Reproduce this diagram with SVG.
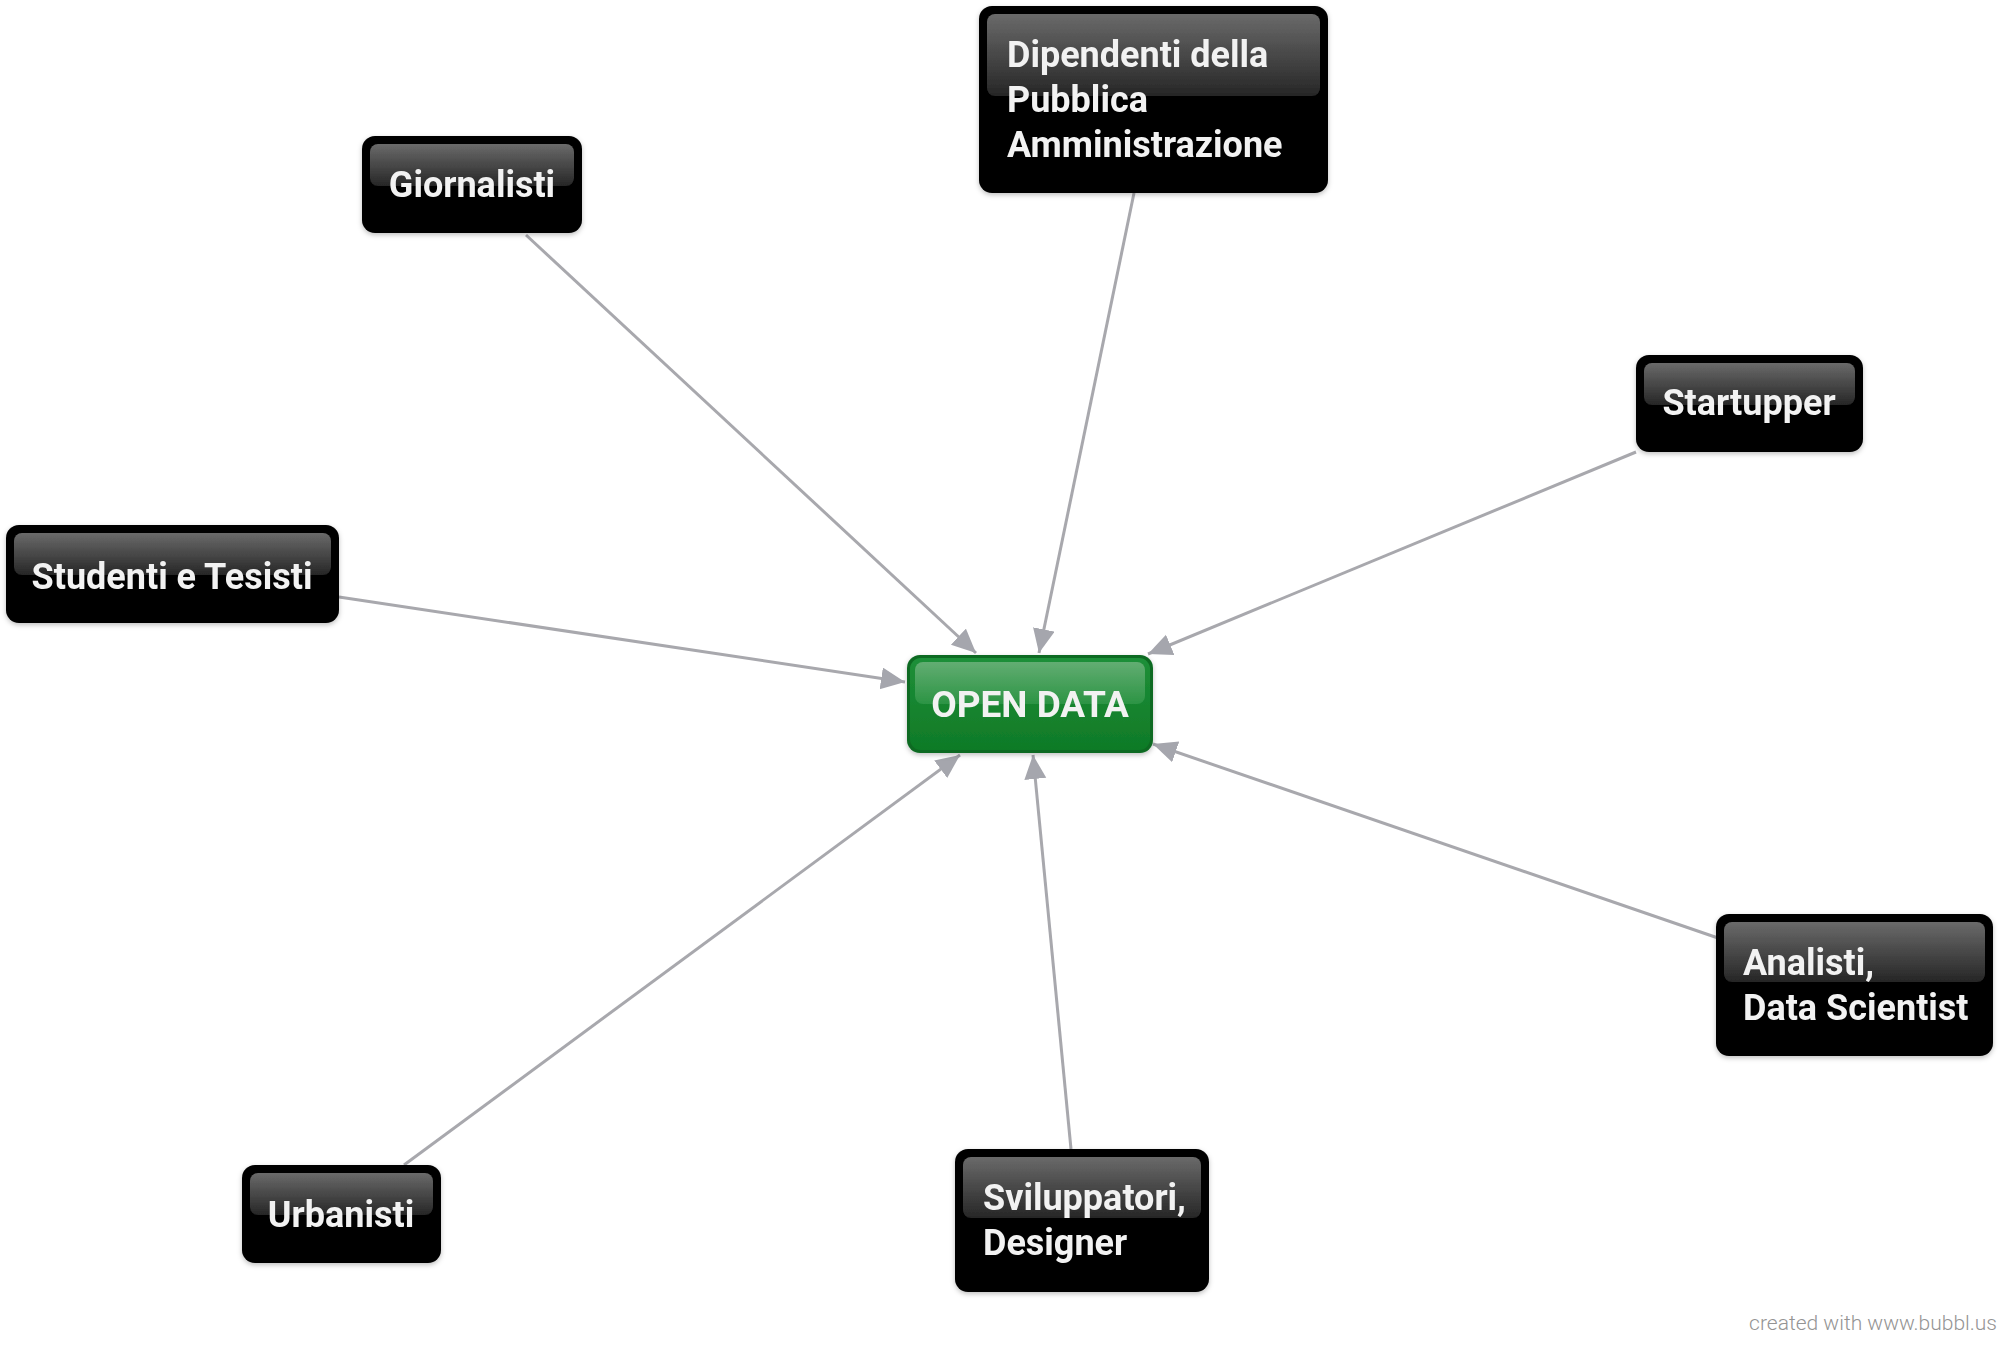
<svg xmlns="http://www.w3.org/2000/svg" width="2013" height="1350" viewBox="0 0 2013 1350">
<style>
.box{fill:#000;}
.gloss{fill:url(#gl);}
.lbl{font-family:Roboto,"Liberation Sans",sans-serif;font-weight:bold;font-size:36px;fill:#f2f2f2;}
.conn{stroke:#a8a8ad;stroke-width:3;fill:none;marker-end:url(#ah);}
.foot{font-family:Roboto,"Liberation Sans",sans-serif;font-weight:300;font-size:21px;fill:#949494;}
</style>
<defs>
<linearGradient id="gl" x1="0" y1="0" x2="0" y2="1">
<stop offset="0" stop-color="#6a6a6a"/>
<stop offset="1" stop-color="#262626"/>
</linearGradient>
<linearGradient id="gg" x1="0" y1="0" x2="0" y2="1">
<stop offset="0" stop-color="#1e8f38"/>
<stop offset="1" stop-color="#0f7a27"/>
</linearGradient>
<linearGradient id="ggl" x1="0" y1="0" x2="0" y2="1">
<stop offset="0" stop-color="#62ad72"/>
<stop offset="1" stop-color="#2c9444"/>
</linearGradient>
<filter id="sh" x="-10%" y="-10%" width="120%" height="130%">
<feDropShadow dx="0" dy="2" stdDeviation="2.5" flood-color="#000" flood-opacity="0.25"/>
</filter>
<marker id="ah" markerUnits="userSpaceOnUse" markerWidth="26" markerHeight="24" refX="24" refY="11" orient="auto">
<path d="M0,0 L24,11 L0,22 z" fill="#a5a6ad"/>
</marker>
</defs>
<rect width="2013" height="1350" fill="#fff"/>
<g id="connectors">
<line class="conn" x1="526" y1="235" x2="976" y2="653"/>
<line class="conn" x1="1134" y1="193" x2="1039" y2="653"/>
<line class="conn" x1="1636" y1="452" x2="1148" y2="654"/>
<line class="conn" x1="339" y1="597" x2="905" y2="682"/>
<line class="conn" x1="1718" y1="938" x2="1153" y2="744"/>
<line class="conn" x1="1071" y1="1149" x2="1033" y2="755"/>
<line class="conn" x1="404" y1="1165" x2="960" y2="755"/>
</g>
<g id="open-data" filter="url(#sh)">
<rect x="907" y="655" width="246" height="98" rx="13" fill="#0c6b21"/>
<rect x="910" y="658" width="240" height="92" rx="11" fill="url(#gg)"/>
<rect x="915" y="662" width="230" height="42" rx="8" fill="url(#ggl)"/>
<text class="lbl" x="1030" y="717" text-anchor="middle" style="font-size:37px">OPEN DATA</text>
</g>
<g id="giornalisti" filter="url(#sh)">
<rect class="box" x="362" y="136" width="220" height="97" rx="13"/>
<rect class="gloss" x="370" y="144" width="204" height="42" rx="8"/>
<text class="lbl" x="472" y="197" text-anchor="middle">Giornalisti</text>
</g>
<g id="dipendenti" filter="url(#sh)">
<rect class="box" x="979" y="6" width="349" height="187" rx="13"/>
<rect class="gloss" x="987" y="14" width="333" height="82" rx="8"/>
<text class="lbl" x="1007" y="67">Dipendenti della</text>
<text class="lbl" x="1007" y="112">Pubblica</text>
<text class="lbl" x="1007" y="157">Amministrazione</text>
</g>
<g id="startupper" filter="url(#sh)">
<rect class="box" x="1636" y="355" width="227" height="97" rx="13"/>
<rect class="gloss" x="1644" y="363" width="211" height="42" rx="8"/>
<text class="lbl" x="1749" y="415" text-anchor="middle">Startupper</text>
</g>
<g id="studenti" filter="url(#sh)">
<rect class="box" x="6" y="525" width="333" height="98" rx="13"/>
<rect class="gloss" x="14" y="533" width="317" height="42" rx="8"/>
<text class="lbl" x="172" y="589" text-anchor="middle">Studenti e Tesisti</text>
</g>
<g id="analisti" filter="url(#sh)">
<rect class="box" x="1716" y="914" width="277" height="142" rx="13"/>
<rect class="gloss" x="1724" y="922" width="261" height="60" rx="8"/>
<text class="lbl" x="1743" y="975">Analisti,</text>
<text class="lbl" x="1743" y="1020">Data Scientist</text>
</g>
<g id="sviluppatori" filter="url(#sh)">
<rect class="box" x="955" y="1149" width="254" height="143" rx="13"/>
<rect class="gloss" x="963" y="1157" width="238" height="61" rx="8"/>
<text class="lbl" x="983" y="1210">Sviluppatori,</text>
<text class="lbl" x="983" y="1255">Designer</text>
</g>
<g id="urbanisti" filter="url(#sh)">
<rect class="box" x="242" y="1165" width="199" height="98" rx="13"/>
<rect class="gloss" x="250" y="1173" width="183" height="42" rx="8"/>
<text class="lbl" x="341" y="1227" text-anchor="middle">Urbanisti</text>
</g>
<text class="foot" x="1997" y="1330" text-anchor="end">created with www.bubbl.us</text>
</svg>
